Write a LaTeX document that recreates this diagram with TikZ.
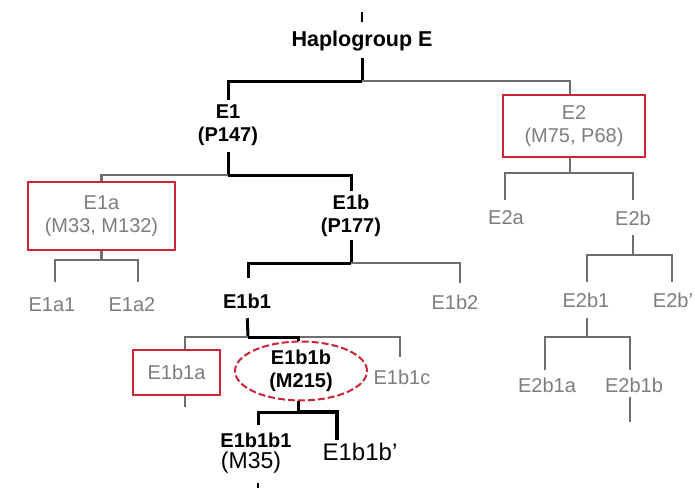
\documentclass[tikz,border=0pt]{standalone}
\usepackage{fontspec}
\setmainfont{Liberation Sans}
\usetikzlibrary{shapes.geometric}
\definecolor{boxred}{RGB}{205,35,55}
\definecolor{txtgray}{RGB}{125,125,125}
\definecolor{lngray}{RGB}{110,110,110}
\begin{document}
\begin{tikzpicture}[x=1pt,y=-1pt,
  blk/.style={line width=3pt,black},
  gry/.style={line width=2.2pt,lngray},
  lb/.style={font=\bfseries\fontsize{20}{23}\selectfont,text=black,inner sep=0pt,align=center},
  lg/.style={font=\fontsize{20}{23}\selectfont,text=txtgray,inner sep=0pt,align=center},
  rbox/.style={draw=boxred,line width=2pt,rectangle},
  big/.style={font=\fontsize{23}{26}\selectfont,text=black,inner sep=0pt}]
\useasboundingbox (0,0) rectangle (695,493);
\fill[white] (0,0) rectangle (695,493);
% nodes
\node[lb,font=\bfseries\fontsize{21.5}{24}\selectfont] (hap) at (362,41) {Haplogroup E};
\node[lb] (e1) at (228,125) {E1\\(P147)};
\node[lg,rbox,minimum width=147pt,minimum height=68pt] (e1a) at (101.5,216) {E1a\\(M33, M132)};
\node[lb] (e1b) at (351,215.5) {E1b\\(P177)};
\node[lg] (e1a1) at (52,305) {E1a1};
\node[lg] (e1a2) at (132,305) {E1a2};
\node[lb] (e1b1) at (247,301) {E1b1};
\node[lg] (e1b2) at (455,302) {E1b2};
\node[lg,rbox,minimum width=87pt,minimum height=45pt] (e1b1a) at (176.5,372.5) {E1b1a};
\node[lb,ellipse,draw=boxred,dash pattern=on 7pt off 3pt,line width=2pt,minimum width=132pt,minimum height=56pt] (e1b1b) at (301,371) {E1b1b\\(M215)};
\node[lg] (e1b1c) at (402,377) {E1b1c};
\node[lb] (e1b1b1) at (256,440) {E1b1b1};
\node[big] (m35) at (251,463) {(M35)};
\node[big,font=\fontsize{24}{28}\selectfont] (e1b1bp) at (360,452) {E1b1b'};
\node[lg,rbox,minimum width=142pt,minimum height=62pt] (e2) at (574,126) {E2\\(M75, P68)};
\node[lg] (e2a) at (506,218) {E2a};
\node[lg] (e2b) at (633,218) {E2b};
\node[lg] (e2b1) at (586,300) {E2b1};
\node[lg] (e2bp) at (673,300) {E2b'};
\node[lg] (e2b1a) at (547,385) {E2b1a};
\node[lg] (e2b1b) at (634,385) {E2b1b};
% junctions and free ends
\coordinate (tk0) at (362,12);
\coordinate (jE) at (362,81);
\coordinate (j1) at (228,175);
\coordinate (ja) at (101.5,260);
\coordinate (jb) at (351,263);
\coordinate (jb1) at (248,337);
\coordinate (jbb) at (298,412);
\coordinate (t1) at (185,407);
\coordinate (tk3) at (258,488);
\coordinate (j2) at (570,173);
\coordinate (j2b) at (633,255);
\coordinate (j2b1) at (587,337);
\coordinate (t2) at (630,422);
% connectors
\draw[blk,line width=2pt,shorten >=9pt] (tk0) -- (hap.north);
\draw[blk,shorten <=7pt] (hap.south) -- (jE);
\draw[gry] (jE) -| ([xshift=-4pt]e2.north);
\draw[blk,shorten >=4pt] (jE) -| (e1.north);
\draw[blk,shorten <=6pt] (e1.south) -- (j1);
\draw[gry] (j1) -| (e1a.north);
\draw[blk,shorten >=3pt] (j1) -| (e1b.north);
\draw[gry] (e1a.south) -- (ja);
\draw[gry,shorten >=15.7pt] (ja) -| ([xshift=3pt]e1a1.north);
\draw[gry,shorten >=15.7pt] (ja) -| ([xshift=6pt]e1a2.north);
\draw[blk,shorten <=3.6pt] (e1b.south) -- (jb);
\draw[gry,shorten >=11.7pt] (jb) -| ([xshift=5pt]e1b2.north);
\draw[blk,shorten >=15.7pt] (jb) -| ([xshift=1pt]e1b1.north);
\draw[blk,shorten <=9.7pt] (e1b1.south) -- (jb1);
\draw[gry] (jb1) -| ([xshift=8.5pt]e1b1a.north);
\draw[gry,shorten >=12.7pt] (jb1) -| ([xshift=-2pt]e1b1c.north);
\draw[blk] (jb1) -| ([xshift=-3pt]e1b1b.north);
\draw[gry] ([xshift=8.5pt]e1b1a.south) -- (t1);
\draw[blk] ([xshift=-3pt]e1b1b.south) -- (jbb);
\draw[blk,shorten >=7.7pt] (jbb) -| ([xshift=2pt]e1b1b1.north);
\draw[blk,line width=4pt,shorten >=3pt] (jbb) -| ([xshift=-23pt]e1b1bp.north);
\draw[black,line width=1.5pt,shorten <=9pt] ([xshift=7pt]m35.south) -- (tk3);
\draw[gry] ([xshift=-4pt]e2.south) -- (j2);
\draw[gry,shorten >=10.7pt] (j2) -| ([xshift=-1pt]e2a.north);
\draw[gry,shorten >=10.7pt] (j2) -| (e2b.north);
\draw[gry,shorten <=9.7pt] (e2b.south) -- (j2b);
\draw[gry,shorten >=10.7pt] (j2b) -| ([xshift=1pt]e2b1.north);
\draw[gry,shorten >=10.7pt] (j2b) -| ([xshift=-1pt]e2bp.north);
\draw[gry,shorten <=10.7pt] ([xshift=1pt]e2b1.south) -- (j2b1);
\draw[gry,shorten >=7.7pt] (j2b1) -| ([xshift=-2pt]e2b1a.north);
\draw[gry,shorten >=7.7pt] (j2b1) -| ([xshift=-4pt]e2b1b.north);
\draw[gry,shorten <=4.7pt] ([xshift=-4pt]e2b1b.south) -- (t2);
\end{tikzpicture}
\end{document}
